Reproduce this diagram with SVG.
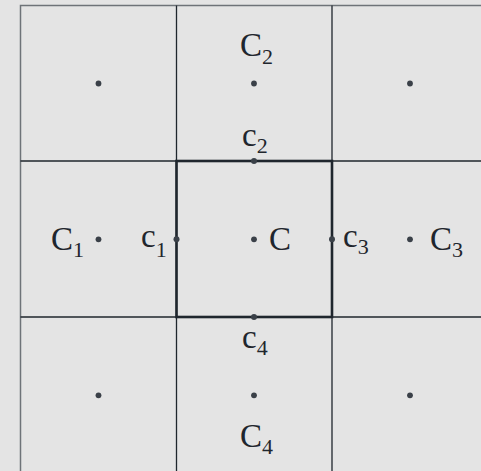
<svg xmlns="http://www.w3.org/2000/svg" width="481" height="471" viewBox="0 0 481 471">
<style>
.bg{fill:#e4e4e4}
.outer{fill:none;stroke:#6e7378;stroke-width:1.5}
.grid{stroke:#1f262d;stroke-width:1.3;fill:none}
.thick{stroke:#1f262d;stroke-width:2.6;fill:none}
.dot{fill:#3a4048}
.lbl{font-family:"Liberation Serif","Times New Roman",serif;font-size:33px;fill:#1f262d}
.sub{font-size:22px}
</style>
<rect class="bg" x="0" y="0" width="481" height="471"/>
<g id="grid">
<path class="outer" d="M20.5,480 V5.5 H490"/>
<path class="grid" d="M176.5,5.5 V480 M332,5.5 V480 M20.5,161 H490 M20.5,317 H490"/>
<rect class="thick" x="176.5" y="161" width="155.5" height="156"/>
</g>
<g id="centers">
<circle class="dot" cx="98.5" cy="83.5" r="2.9"/>
<circle class="dot" cx="254" cy="83.5" r="2.9"/>
<circle class="dot" cx="410" cy="83.5" r="2.9"/>
<circle class="dot" cx="98.5" cy="239.3" r="2.9"/>
<circle class="dot" cx="254" cy="239.3" r="2.9"/>
<circle class="dot" cx="410" cy="239.3" r="2.9"/>
<circle class="dot" cx="98.5" cy="395.3" r="2.9"/>
<circle class="dot" cx="254" cy="395.3" r="2.9"/>
<circle class="dot" cx="410" cy="395.3" r="2.9"/>
</g>
<g id="edgepoints">
<circle class="dot" cx="254" cy="161" r="3"/>
<circle class="dot" cx="176.5" cy="239.3" r="3"/>
<circle class="dot" cx="332" cy="239.3" r="3"/>
<circle class="dot" cx="254" cy="317" r="3"/>
</g>
<g id="labels">
<text class="lbl" x="240" y="56">C<tspan class="sub" dy="8">2</tspan></text>
<text class="lbl" x="242" y="146">c<tspan class="sub" dy="7">2</tspan></text>
<text class="lbl" x="51" y="250">C<tspan class="sub" dy="7">1</tspan></text>
<text class="lbl" x="141" y="247">c<tspan class="sub" dy="10">1</tspan></text>
<text class="lbl" x="269" y="250">C</text>
<text class="lbl" x="343" y="247">c<tspan class="sub" dy="7">3</tspan></text>
<text class="lbl" x="430" y="250">C<tspan class="sub" dy="7">3</tspan></text>
<text class="lbl" x="242" y="348">c<tspan class="sub" dy="7">4</tspan></text>
<text class="lbl" x="240" y="447">C<tspan class="sub" dy="7">4</tspan></text>
</g>
</svg>
